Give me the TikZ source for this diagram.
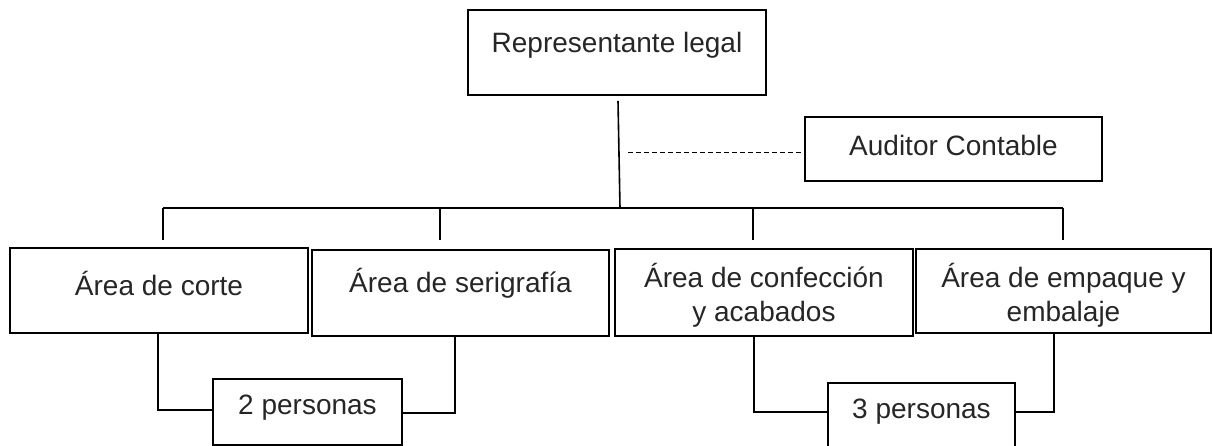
\documentclass[tikz,border=0pt]{standalone}
\usepackage{fontspec}
\setmainfont{Liberation Sans}
\begin{document}
\begin{tikzpicture}[x=1pt,y=-1pt,
  box/.style={draw=black,line width=1.6pt,rectangle,inner sep=0pt},
  txt/.style={inner sep=0pt,font=\fontsize{28}{34}\selectfont,text=black!85,align=center},
  conn/.style={draw=black,line width=1.6pt},
  dashconn/.style={draw=black,line width=0.9pt,dash pattern=on 5pt off 3pt}]
\useasboundingbox (0,0) rectangle (1213,446);
% boxes
\node[box,minimum width=298pt,minimum height=85pt] (rep) at (617,52.5) {};
\node[txt] (repT) at (617,45) {Representante legal};
\node[box,minimum width=297pt,minimum height=64pt] (aud) at (953.5,149) {};
\node[txt] (audT) at (953.5,145) {Auditor Contable};
\node[box,minimum width=298pt,minimum height=85pt] (corte) at (159,290.5) {};
\node[txt] (corteT) at (159,283) {Área de corte};
\node[box,minimum width=297pt,minimum height=86pt] (seri) at (460.5,293) {};
\node[txt] (seriT) at (460.5,283) {Área de serigrafía};
\node[box,minimum width=298pt,minimum height=87pt] (conf) at (764,292.5) {};
\node[txt] (confT) at (764,295) {Área de confección\\y acabados};
\node[box,minimum width=295pt,minimum height=84pt] (emp) at (1063.5,291) {};
\node[txt] (empT) at (1063.5,295) {Área de empaque y\\embalaje};
\node[box,minimum width=189pt,minimum height=66pt] (p2) at (307.5,412) {};
\node[txt] (p2T) at (307.5,408) {2 personas};
\node[box,minimum width=187pt,minimum height=70pt] (p3) at (921.5,418) {};
\node[txt] (p3T) at (921.5,412) {3 personas};
% coordinates
\coordinate (busL) at (163,208);
\coordinate (busR) at (1063,208);
\coordinate (busC) at (620,208);
\coordinate (t1) at (163,240);
\coordinate (t2) at (440,240);
\coordinate (t3) at (753,240);
\coordinate (t4) at (1063,240);
\coordinate (dashL) at (628,152);
% top structure
\draw[conn] ([xshift=1pt,yshift=-5pt]rep.south) -- (busC);
\draw[conn] (busL) -- (busR);
\draw[conn] (busL) -- (t1);
\draw[conn] (t2 |- busL) -- (t2);
\draw[conn] (t3 |- busL) -- (t3);
\draw[conn] (busR) -- (t4);
\draw[dashconn] (dashL) -- (aud.west |- dashL);
% bottom connectors
\draw[conn] ([xshift=-1pt]corte.south) |- ([yshift=2pt]p2.west);
\draw[conn] ([yshift=-1pt]p2.east) -| ([xshift=-5.5pt]seri.south);
\draw[conn] ([xshift=-10pt]conf.south) |- ([yshift=6pt]p3.west);
\draw[conn] ([yshift=6pt]p3.east) -| ([xshift=-9.5pt]emp.south);
\end{tikzpicture}
\end{document}
